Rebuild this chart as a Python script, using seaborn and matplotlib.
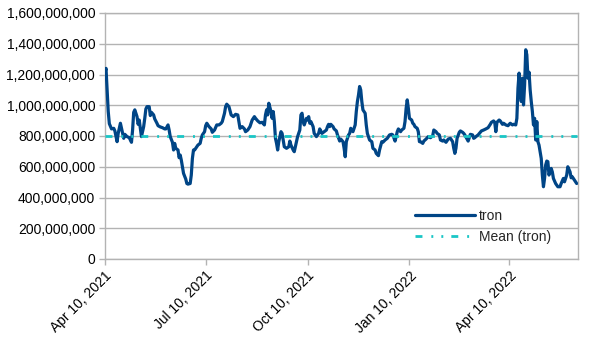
import numpy as np
import pandas as pd
import matplotlib
matplotlib.use("Agg")
import matplotlib.pyplot as plt
import matplotlib.ticker as mticker
import seaborn as sns

# ---------------- data ----------------
start_date = "2021-04-10"
series_name = "tron"
mean_name = "Mean (tron)"

day_offsets = [
    0, 1, 2, 3, 4, 6, 8, 9, 11, 12, 14, 15, 17, 18, 20, 22, 24, 25, 26, 27, 29, 30, 31, 32, 33,
    35, 36, 37, 38, 40, 41, 42, 44, 45, 47, 48, 50, 52, 54, 55, 57, 58, 59, 61, 62, 63, 64, 66, 67,
    68, 69, 70, 71, 73, 74, 75, 77, 78, 79, 80, 81, 83, 84, 86, 87, 88, 90, 91, 92, 94, 96, 97, 99,
    101, 103, 105, 106, 108, 109, 110, 112, 114, 116, 118, 120, 121, 122, 124, 126, 127, 129, 131,
    133, 135, 136, 138, 140,
    142, 144, 145, 146, 147, 148, 150, 151, 152, 153, 154, 155, 156, 157, 159, 160, 161, 162, 164,
    166, 167, 168, 170, 171, 172, 173, 174, 176, 177, 178, 179, 180, 182, 183, 184, 185, 186, 188,
    189, 191, 193, 194, 196, 198, 200, 201, 202, 203, 204, 206, 207, 209, 210, 212,
    213, 215, 216, 217, 218, 220, 221, 222, 223, 224, 226, 227, 228, 229, 230, 231, 232, 233, 235,
    236, 237, 238, 239, 241, 242, 244, 245, 247, 248, 250, 251, 253, 255, 257, 259, 260, 262, 263,
    264, 265, 267, 268, 270, 271, 272, 273, 274, 275, 277, 278, 279, 280, 282, 283, 284,
    285, 287, 288, 290, 292, 294, 296, 297, 299, 300, 302, 303, 305, 306, 308, 310, 312, 314, 315,
    316, 317, 318, 320, 321, 323, 324, 325, 327, 328, 329, 330, 332, 333, 334, 335, 337, 339, 340,
    342, 344, 346, 348, 349, 351, 352, 353, 354, 356, 357,
    359, 360, 362, 364, 366, 368, 369, 371, 372, 373, 374, 375, 376, 377, 378, 379, 380, 381, 382,
    383, 384, 385, 386, 387, 388, 389, 390, 391, 392, 393, 394, 395, 396, 397, 398, 399, 400, 401,
    403, 404, 405, 407, 409, 411, 412, 414, 415, 416, 417, 418, 420, 421, 422, 423, 425, 426,
]

volume_millions = [
    1210, 1240, 1100, 960, 880, 846, 850, 833, 763, 817, 883, 850, 785, 811, 796, 789, 759, 839, 954, 970, 926, 876, 904, 850, 796,
    861, 915, 976, 991, 991, 933, 954, 937, 911, 883, 867, 859, 854, 846, 846, 872, 839, 796, 759, 709, 752, 720, 709, 659,
    676, 643, 600, 557, 520, 491, 487, 491, 546, 654, 709, 709, 730, 741, 752, 785, 807, 828, 867, 883, 861, 846, 824, 839,
    872, 872, 883, 894, 948, 991, 1007, 991, 937, 926, 941, 937, 894, 850, 861, 846, 828, 839, 861,
    904, 926, 915, 898, 886,
    889, 872, 937, 970, 937, 1013, 959, 915, 959, 894, 785, 752, 709, 763, 828, 817, 774, 730, 720,
    730, 767, 741, 709, 698, 730, 763, 796, 839, 937, 948, 894, 872, 915, 904, 926, 883, 894, 861,
    817, 796, 817, 846, 817, 828, 839, 861, 876, 861, 876, 861, 846, 833, 807, 767,
    780, 763, 720, 665, 763, 807, 817, 850, 839, 828, 872, 959, 1024, 1067, 1122, 1100, 1024, 970, 948,
    872, 817, 796, 774, 763, 720, 709, 687, 672, 709, 763, 759, 774, 785, 807, 811, 807, 767, 796,
    828, 846, 828, 839, 850, 894, 980, 1035, 980, 915, 904, 883, 876, 861, 850, 828, 763,
    763, 752, 767, 780, 796, 789, 802, 839, 828, 817, 807, 774, 767, 774, 759, 780, 785, 763, 720,
    687, 720, 785, 824, 833, 824, 817, 807, 780, 767, 789, 811, 807, 785, 789, 796, 807, 824, 833,
    839, 846, 854, 876, 889, 898, 889, 828, 889, 904, 898,
    876, 883, 872, 867, 883, 872, 876, 872, 915, 1111, 1209, 1089, 1024, 1176, 1002, 1133, 1361, 1328, 1176,
    1215, 1100, 1024, 959, 872, 915, 774, 894, 763, 741, 698, 654, 546, 470, 524, 611, 637, 633, 546,
    589, 567, 524, 491, 470, 470, 491, 524, 502, 524, 546, 600, 567, 528, 535, 524, 502, 491,
]

mean_millions = 797

tick_dates = ["2021-04-10", "2021-07-10", "2021-10-10", "2022-01-10", "2022-04-10"]
tick_labels = ["Apr 10, 2021", "Jul 10, 2021", "Oct 10, 2021", "Jan 10, 2022", "Apr 10, 2022"]
y_ticks = [0, 200e6, 400e6, 600e6, 800e6, 1000e6, 1200e6, 1400e6, 1600e6]
x_end_days = 427.2

# ---------------- styling ----------------
sns.set_theme(style="white")
plt.rcParams['font.family'] = ['Liberation Sans', 'DejaVu Sans']

start = pd.Timestamp(start_date)
dates = start + pd.to_timedelta(day_offsets, unit="D")
df = pd.DataFrame({"date": dates, "value": np.array(volume_millions, dtype=float) * 1e6})
mean_df = pd.DataFrame({"date": [dates[0], dates[-1]],
                        "value": [mean_millions * 1e6, mean_millions * 1e6]})

fig = plt.figure(figsize=(6.05, 3.40), dpi=100)
ax = fig.add_axes([104.9 / 605, 1 - 259 / 340, (578 - 104.9) / 605, (259 - 13) / 340])

sns.lineplot(data=df, x="date", y="value", ax=ax, color="#004586", linewidth=2.3,
             label=series_name, zorder=3)
sns.lineplot(data=mean_df, x="date", y="value", ax=ax, color="#1ac6c6", linewidth=2.0,
             linestyle=(0, (2.5, 3.2, 0.7, 2.9, 0.7, 2.9)), label=mean_name, zorder=4)

ax.set_xlim(start, start + pd.Timedelta(days=x_end_days))
ax.set_ylim(0, 1.6e9)
ax.set_xlabel("")
ax.set_ylabel("")

ax.set_yticks(y_ticks)
ax.yaxis.set_major_formatter(mticker.FuncFormatter(lambda v, p: f"{int(round(v)):,}"))
ax.set_xticks(pd.to_datetime(tick_dates))
ax.set_xticklabels(tick_labels, rotation=45, ha="right", rotation_mode="anchor")

grid_c = "#b3b3b3"
ax.yaxis.grid(True, color=grid_c, linewidth=1.0, zorder=0)
ax.xaxis.grid(False)
ax.set_axisbelow(True)
for s in ax.spines.values():
    s.set_color(grid_c)
    s.set_linewidth(1.0)
    s.set_visible(True)

ax.tick_params(axis="both", which="major", bottom=True, left=True, length=4, width=1,
               color=grid_c, labelsize=10, labelcolor="black", pad=3)

leg = ax.legend(loc="upper left", bbox_to_anchor=(0.655, 0.202), frameon=False,
                fontsize=10, handlelength=4.3, handletextpad=0.3, labelspacing=0.45,
                borderpad=0, borderaxespad=0)

fig.savefig("out.png", dpi=100, facecolor="white")
